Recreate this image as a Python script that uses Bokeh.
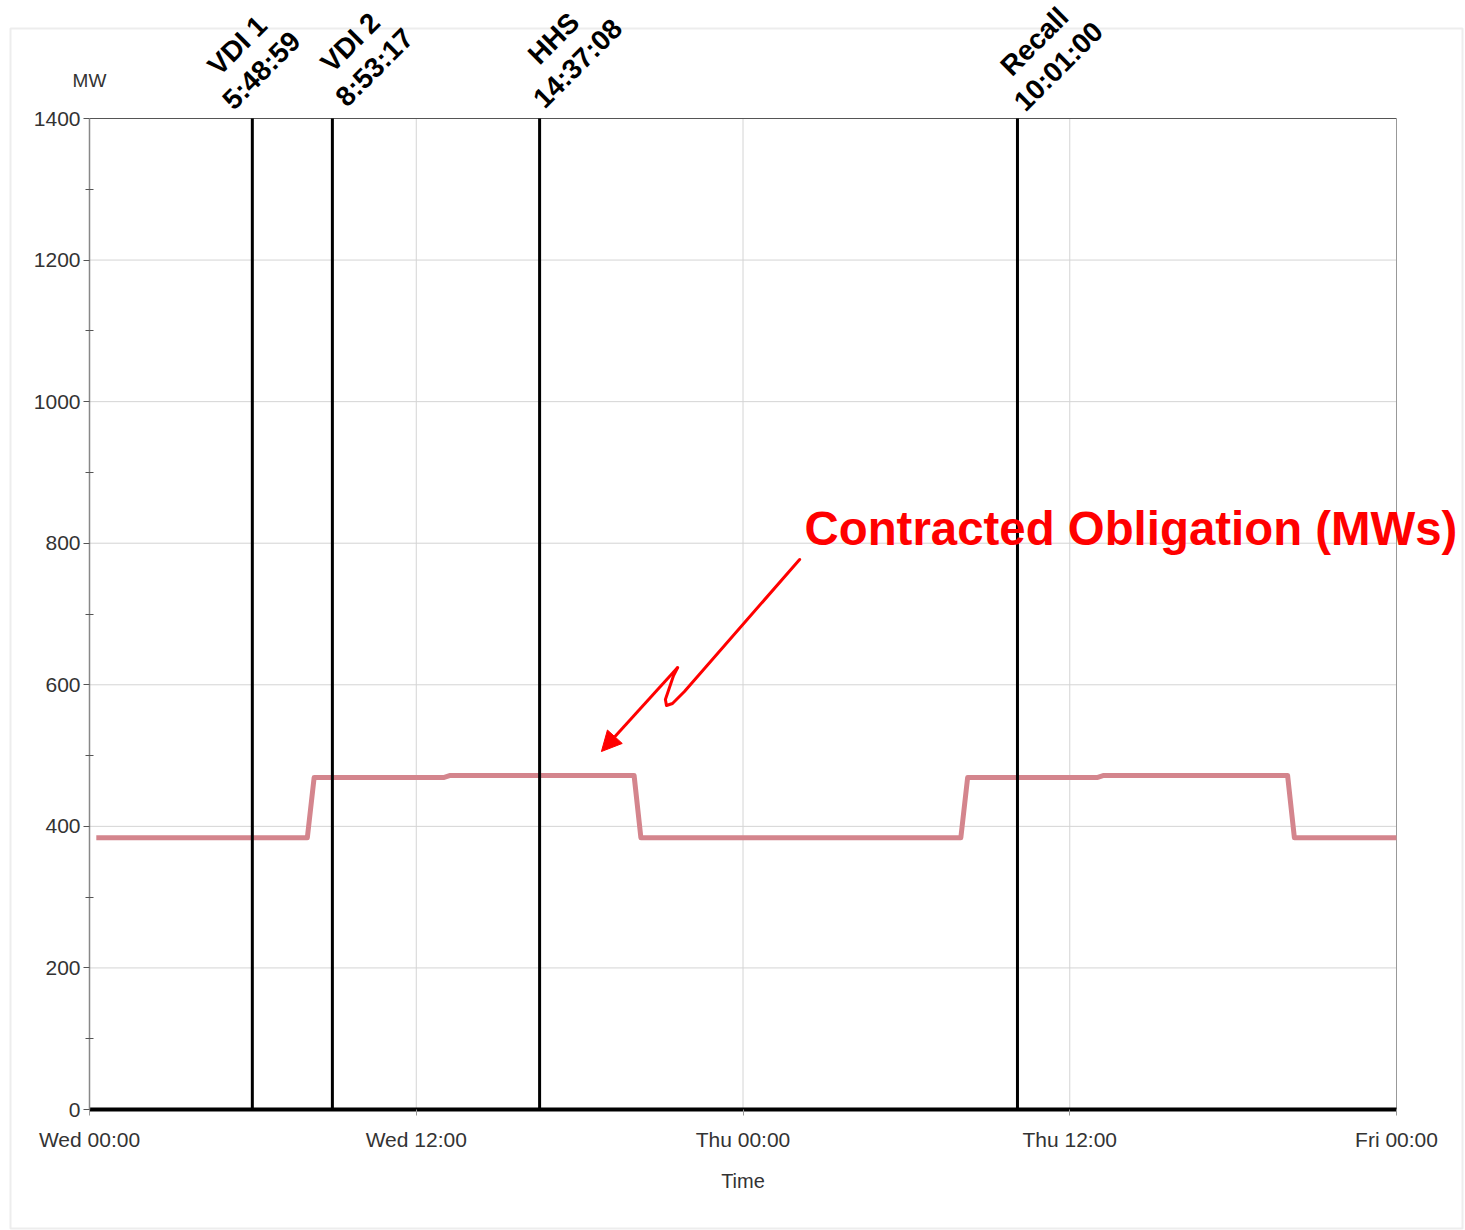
import math
from bokeh.plotting import figure
from bokeh.models import Range1d, FixedTicker, Label, Arrow, NormalHead, BoxAnnotation
from bokeh.embed import file_html
from bokeh.resources import INLINE

# ---------------- data ----------------
obligation_hours = [0.25, 8.0, 8.25, 13.0, 13.25, 20.0, 20.25,
                    32.0, 32.25, 37.0, 37.25, 44.0, 44.25, 48.0]
obligation_mw = [384, 384, 469, 469, 472, 472, 384,
                 384, 469, 469, 472, 472, 384, 384]

event_names = ["VDI 1", "VDI 2", "HHS", "Recall"]
event_times = ["5:48:59", "8:53:17", "14:37:08", "10:01:00"]
event_hours = [5.98, 8.92, 16.53, 34.08]

x_tick_hours = [0, 12, 24, 36, 48]
x_tick_labels = ["Wed 00:00", "Wed 12:00", "Thu 00:00", "Thu 12:00", "Fri 00:00"]
y_ticks = [0, 200, 400, 600, 800, 1000, 1200, 1400]
y_minor_ticks = [100, 300, 500, 700, 900, 1100, 1300]

y_axis_unit = "MW"
x_axis_title = "Time"
callout_text = "Contracted Obligation (MWs)"
# callout arrow path (hours, MW)
callout_hours = [26.08, 21.85, 21.41, 21.19, 21.15, 21.45, 21.60]
callout_mw = [777.0, 590.5, 573.6, 570.7, 579.2, 613.1, 624.4]
callout_tip = (18.80, 505.7)

# ---------------- layout ----------------
CANVAS_W, CANVAS_H = 1465, 1230
PLOT_LEFT, PLOT_RIGHT, PLOT_TOP, PLOT_BOTTOM = 89, 1396, 118, 1109
X0, X1, Y0, Y1 = 0, 48, 0, 1400
PX_H = (PLOT_RIGHT - PLOT_LEFT) / (X1 - X0)
PX_MW = (PLOT_BOTTOM - PLOT_TOP) / (Y1 - Y0)
FONT = "Liberation Sans"
GREY_TXT = "#333333"
GRID = "#d4d4d4"


def sx_to_x(px):
    return X0 + (px - PLOT_LEFT) / PX_H


def sy_to_y(py):
    return Y0 + (PLOT_BOTTOM - py) / PX_MW


p = figure(width=CANVAS_W, height=CANVAS_H,
           x_range=Range1d(sx_to_x(0), sx_to_x(CANVAS_W)),
           y_range=Range1d(sy_to_y(CANVAS_H), sy_to_y(0)),
           output_backend="svg", toolbar_location=None, min_border=0)
p.title.visible = False
p.background_fill_color = "white"
p.border_fill_color = "white"
p.outline_line_color = None
p.xgrid.visible = False
p.ygrid.visible = False

# outer chart box
p.add_layout(BoxAnnotation(left=10, right=1462, top=28, bottom=1228,
                           left_units="canvas", right_units="canvas",
                           top_units="canvas", bottom_units="canvas",
                           fill_alpha=0, line_color="#c4c4c4", line_width=2,
                           level="underlay"))

# grid lines (inside plot area only)
gx = [h for h in x_tick_hours if X0 < h < X1]
p.segment(x0=gx, y0=[Y0] * len(gx), x1=gx, y1=[Y1] * len(gx),
          line_color=GRID, line_width=1)
gy = [v for v in y_ticks if Y0 < v < Y1]
p.segment(x0=[X0] * len(gy), y0=gy, x1=[X1] * len(gy), y1=gy,
          line_color=GRID, line_width=1)
# plot-area border (top, right)
p.segment(x0=[X0], y0=[Y1], x1=[X1], y1=[Y1], line_color="#555555", line_width=1)
p.segment(x0=[X1], y0=[Y0], x1=[X1], y1=[Y1], line_color="#999999", line_width=1)

# axes
xt = FixedTicker(ticks=x_tick_hours, minor_ticks=[])
p.xaxis.fixed_location = Y0
p.xaxis.bounds = (X0, X1)
p.xaxis.ticker = xt
p.xaxis.major_label_overrides = {h: l for h, l in zip(x_tick_hours, x_tick_labels)}
p.xaxis.axis_line_color = "black"
p.xaxis.axis_line_width = 4
p.xaxis.major_tick_in = 0
p.xaxis.major_tick_out = 6
p.xaxis.major_tick_line_color = "#999999"
p.xaxis.minor_tick_line_color = None
p.xaxis.major_label_text_font = FONT
p.xaxis.major_label_text_font_size = "21px"
p.xaxis.major_label_text_color = GREY_TXT
p.xaxis.major_label_standoff = 12

yt = FixedTicker(ticks=y_ticks, minor_ticks=y_minor_ticks)
p.yaxis.fixed_location = X0
p.yaxis.bounds = (Y0, Y1)
p.yaxis.ticker = yt
p.yaxis.axis_line_color = "#888888"
p.yaxis.axis_line_width = 1.5
p.yaxis.major_tick_in = 0
p.yaxis.major_tick_out = 6
p.yaxis.minor_tick_in = 4
p.yaxis.minor_tick_out = 4
p.yaxis.major_tick_line_color = "#555555"
p.yaxis.minor_tick_line_color = "#555555"
p.yaxis.major_label_text_font = FONT
p.yaxis.major_label_text_font_size = "21px"
p.yaxis.major_label_text_color = GREY_TXT
p.yaxis.major_label_standoff = 3

# axis titles
p.add_layout(Label(x=(X0 + X1) / 2, y=sy_to_y(1180), text=x_axis_title,
                   text_align="center", text_baseline="middle", text_font=FONT,
                   text_font_size="20px", text_color=GREY_TXT))
p.add_layout(Label(x=X0, y=sy_to_y(80), text=y_axis_unit, text_align="center",
                   text_baseline="middle", text_font=FONT,
                   text_font_size="19px", text_color=GREY_TXT))

# series
p.line(obligation_hours, obligation_mw, line_color="#d4858d", line_width=5,
       line_join="round")

# events
p.segment(x0=event_hours, y0=[Y0] * len(event_hours), x1=event_hours,
          y1=[Y1] * len(event_hours), line_color="black", line_width=3)
time_off = [(9, 48), (42, 51), (38, 55), (41, 52)]   # px right / up from line top
name_shift = (-24, 25)
for h, nm, tm, (dx, dy) in zip(event_hours, event_names, event_times, time_off):
    tx = h + dx / PX_H
    ty = Y1 + dy / PX_MW
    for txt, ox, oy in ((tm, 0, 0), (nm, name_shift[0], name_shift[1])):
        p.add_layout(Label(x=tx + ox / PX_H, y=ty + oy / PX_MW, text=txt,
                           angle=math.pi / 4, text_align="center",
                           text_baseline="middle", text_font=FONT,
                           text_font_size="28px", text_font_style="bold",
                           text_color="black"))

# callout
p.line(callout_hours, callout_mw, line_color="red", line_width=3,
       line_join="round", line_cap="round")
p.add_layout(Arrow(x_start=callout_hours[-1], y_start=callout_mw[-1],
                   x_end=callout_tip[0], y_end=callout_tip[1],
                   line_color="red", line_width=3,
                   end=NormalHead(size=20, fill_color="red", line_color="red")))
p.add_layout(Label(x=sx_to_x(804), y=sy_to_y(528), text=callout_text,
                   text_align="left", text_baseline="middle", text_font=FONT,
                   text_font_size="47.4px", text_font_style="bold",
                   text_color="red"))

open("out.html", "w").write(file_html(p, INLINE))
